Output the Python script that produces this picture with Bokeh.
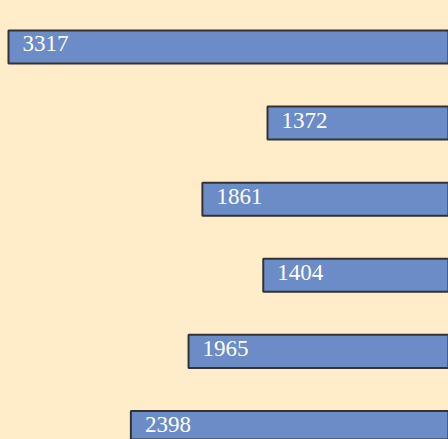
from bokeh.plotting import figure
from bokeh.models import Range1d, ColumnDataSource
from bokeh.core.properties import value
from bokeh.embed import file_html
from bokeh.resources import INLINE

# data
values = [3317, 1372, 1861, 1404, 1965, 2398]
positions = [0, 1, 2, 3, 4, 5]
labels = [str(v) for v in values]

BG = "#FFEDC9"

src = ColumnDataSource(dict(
    y=positions,
    right=[0] * len(values),
    left=values,
    lab=labels,
))

p = figure(width=448, height=439, output_backend="svg", toolbar_location=None,
           x_range=Range1d(3377, 13), y_range=Range1d(5.158, -0.611),
           min_border=0, min_border_left=0, min_border_right=0,
           min_border_top=0, min_border_bottom=0)
p.axis.visible = False
p.grid.visible = False
p.outline_line_color = None
p.background_fill_color = BG
p.border_fill_color = BG

p.hbar(y="y", left="left", right="right", height=0.434, source=src,
       fill_color="#6B8CC7", line_color="#333333", line_width=2)

p.text(x="left", y="y", text="lab", source=src, x_offset=14, y_offset=-3,
       text_color="white", text_font=value("Liberation Serif"),
       text_font_size="23px", text_baseline="middle", text_align="left")

html = file_html(p, INLINE)
html = html.replace("<head>", "<head><style>html,body{background:%s;}</style>" % BG, 1)
open("out.html", "w").write(html)
